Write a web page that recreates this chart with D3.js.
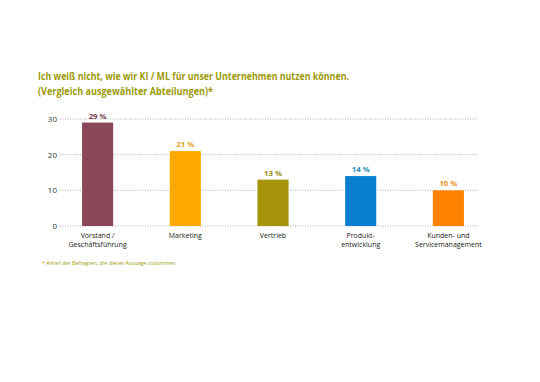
<!DOCTYPE html>
<html><head><meta charset="utf-8">
<script src="https://cdn.jsdelivr.net/npm/d3@7"></script>
<style>body{margin:0;background:#fff}svg{display:block}text{font-family:"Open Sans","Noto Sans",sans-serif}</style>
</head><body><svg id="c" width="540" height="382"></svg>
<script>
const categories = [["Vorstand /","Geschäftsführung"],["Marketing"],["Vertrieb"],["Produkt-","entwicklung"],["Kunden- und","Servicemanagement"]];
const values = [29, 21, 13, 14, 10];
const colors = ["#8a4757", "#ffa800", "#a6930a", "#0a7fcf", "#ff8200"];
const labelColors = ["#7a3e4d", "#e0a020", "#9a8a10", "#1f8ab8", "#f08a20"];
const yTicks = [0, 10, 20, 30];
const titleLines = ["Ich weiß nicht, wie wir KI / ML für unser Unternehmen nutzen können.", "(Vergleich ausgewählter Abteilungen)*"];
const titleWidths = [311, 175];
const footnote = "* Anteil der Befragten, die dieser Aussage zustimmen";

const svg = d3.select("#c");
const x = d3.scaleBand().domain(d3.range(values.length)).range([54, 492]).paddingInner(0.645).paddingOuter(0.32);
const y = d3.scaleLinear().domain([0, 30]).range([226, 119]);

svg.selectAll(".title").data(titleLines).join("text")
  .attr("x", 38).attr("y", (d, i) => 80 + i * 15)
  .attr("fill", "#9c9a0a").attr("font-weight", "bold").attr("font-size", 9.8)
  .attr("textLength", (d, i) => titleWidths[i]).attr("lengthAdjust", "spacingAndGlyphs")
  .text(d => d);

const grid = svg.append("g");
grid.selectAll("line").data(yTicks).join("line")
  .attr("x1", 60).attr("x2", 478).attr("y1", d => y(d)).attr("y2", d => y(d))
  .attr("stroke", "#9a9a9a").attr("stroke-width", 0.8).attr("stroke-dasharray", "1,1.5");
grid.selectAll("text").data(yTicks).join("text")
  .attr("x", 57).attr("y", d => y(d) + 3).attr("text-anchor", "end")
  .attr("font-size", 8).attr("fill", "#333").text(d => d);

svg.selectAll(".bar").data(values).join("rect")
  .attr("x", (d, i) => x(i)).attr("width", x.bandwidth())
  .attr("y", d => y(d)).attr("height", d => y(0) - y(d))
  .attr("fill", (d, i) => colors[i]);

svg.selectAll(".val").data(values).join("text")
  .attr("x", (d, i) => x(i) + x.bandwidth() / 2).attr("y", d => y(d) - 4)
  .attr("text-anchor", "middle").attr("font-size", 7.8).attr("font-weight", "bold")
  .attr("fill", (d, i) => labelColors[i]).text(d => d + " %");

const cat = svg.selectAll(".cat").data(categories).join("text")
  .attr("text-anchor", "middle").attr("font-size", 7).attr("fill", "#222")
  .attr("transform", (d, i) => `translate(${x(i) + x.bandwidth() / 2},238)`);
cat.selectAll("tspan").data(d => d).join("tspan")
  .attr("x", 0).attr("dy", (d, j) => j === 0 ? 0 : 8.5).text(d => d);

svg.append("text").attr("x", 42).attr("y", 265).attr("font-size", 5.4)
  .attr("fill", "#9c9a0a").text(footnote);
</script></body></html>
